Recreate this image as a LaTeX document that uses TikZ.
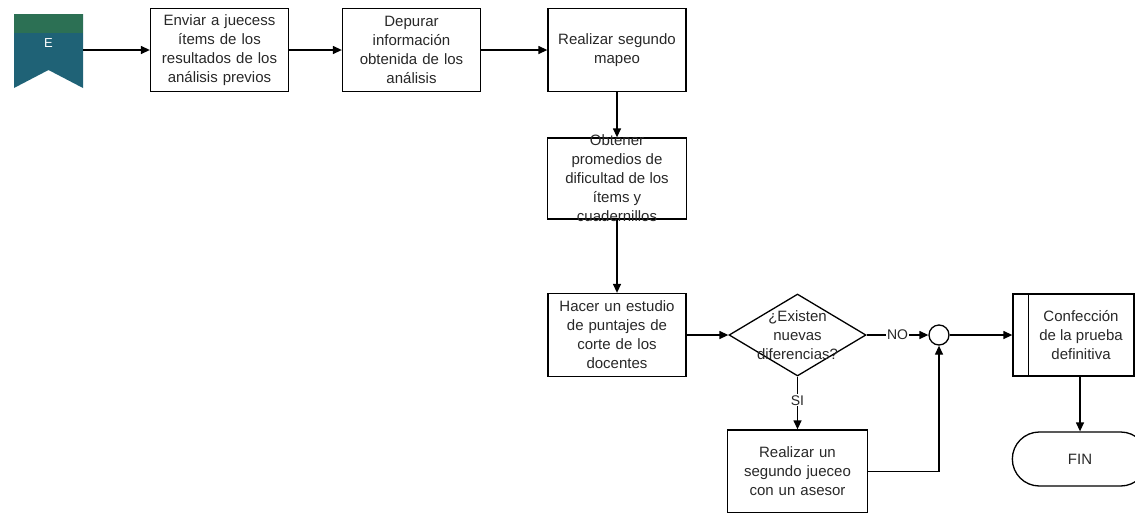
\documentclass[tikz,border=0pt]{standalone}
\usepackage{fontspec}
\setmainfont{Liberation Sans}
\usetikzlibrary{arrows.meta,shapes.geometric,shapes.misc,calc}
\definecolor{bannergreen}{RGB}{44,112,84}
\definecolor{bannerteal}{RGB}{31,98,118}
\definecolor{inktext}{RGB}{40,40,40}
\begin{document}
\begin{tikzpicture}[x=1pt,y=-1pt,
  every node/.style={font=\fontsize{15}{19}\selectfont, text=inktext},
  procbox/.style={draw, line width=1.3pt, rectangle, minimum width=138pt, minimum height=83pt,
    align=center, inner sep=2pt, text width=132pt},
  plainbox/.style={draw, line width=1.3pt, rectangle, inner sep=0pt},
  decision/.style={draw, line width=1.3pt, diamond, aspect=1.67, inner sep=0pt,
    minimum width=137pt, minimum height=82pt},
  junction/.style={draw, line width=1.3pt, circle, minimum size=20pt, inner sep=0pt},
  terminal/.style={draw, line width=1.3pt, rounded rectangle, minimum width=142pt,
    minimum height=54pt},
  flowlabel/.style={fill=white, inner sep=1pt, font=\fontsize{14}{16}\selectfont},
  arr/.style={line width=1.3pt, -{Triangle[length=9pt,width=8pt]}},
  ln/.style={line width=1.3pt}]
\useasboundingbox (0,0) rectangle (1135,512);

% start banner
\fill[bannerteal] (14,14) -- (83,14) -- (83,88) -- (48.5,70) -- (14,88) -- cycle;
\fill[bannergreen] (14,14) rectangle (83,33);
\node[text=white, font=\fontsize{13}{15}\selectfont] (start) at (48.5,43) {E};
\coordinate (startR) at (83,50);

% process boxes
\node[procbox] (b1) at (219.5,50) {Enviar a juecess\\ítems de los\\resultados de los\\análisis previos};
\node[procbox] (b2) at (411.5,50) {Depurar\\información\\obtenida de los\\análisis};
\node[procbox] (b3) at (617,50) {Realizar segundo\\mapeo};
\node[plainbox, minimum width=139pt, minimum height=81pt] (b4) at (617,178.5) {};
\node[align=center, inner sep=0pt] (b4t) at (b4.center)
  {Obtener\\promedios de\\dificultad de los\\ítems y\\cuadernillos};
\node[procbox] (b5) at (617,335) {Hacer un estudio\\de puntajes de\\corte de los\\docentes};
\node[decision] (d1) at (797.5,335) {};
\node[align=center, inner sep=0pt] (d1t) at (d1.center) {¿Existen\\nuevas\\diferencias?};
\node[junction] (j1) at (939,335) {};
\node[plainbox, minimum width=121pt, minimum height=82pt] (b6) at (1073.5,335) {};
\draw[ln] ($(b6.north west)+(16,0)$) -- ($(b6.south west)+(16,0)$);
\node[align=center, inner sep=0pt] (b6t) at (1081,335) {Confección\\de la prueba\\definitiva};
\node[procbox, text width=136pt] (b7) at (797.5,471.5) {Realizar un\\segundo jueceo\\con un asesor};
\node[terminal] (fin) at (1080,459) {FIN};

% connectors
\draw[arr] (startR) -- (b1.west);
\draw[arr] (b1.east) -- (b2.west);
\draw[arr] (b2.east) -- (b3.west);
\draw[arr] (b3.south) -- (b4.north);
\draw[arr] (b4.south) -- (b5.north);
\draw[arr] (b5.east) -- (d1.west);
\draw[arr] (d1.east) -- node[flowlabel] {NO} (j1.west);
\draw[arr] (j1.east) -- (b6.west);
\draw[arr] (b6.south -| fin.north) -- (fin.north);
\draw[arr] (d1.south) -- node[flowlabel, pos=0.45] {SI} (b7.north);
\draw[arr] (b7.east) -| (j1.south);
\end{tikzpicture}
\end{document}
